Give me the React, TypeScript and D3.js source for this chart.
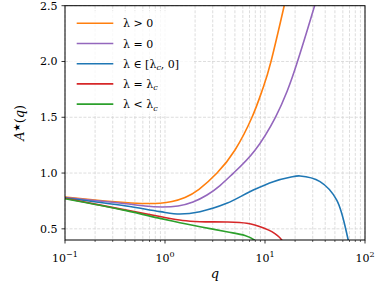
import React from "react";
import * as d3 from "d3";

const W = 381;
const H = 286;

const seriesLabels = ["λ > 0", "λ = 0", "λ ∈ [λc, 0]", "λ = λc", "λ < λc"];
const seriesColors = ["#ff7f0e", "#9467bd", "#1f77b4", "#d62728", "#2ca02c"];

const orangeQ = [0.1, 0.251, 0.398, 0.631, 0.891, 1.175, 1.585, 2.188, 3.311, 5.012, 7.413, 9.44, 11.48, 15.56, 17.78];
const orangeV = [0.785, 0.75, 0.736, 0.727, 0.73, 0.745, 0.781, 0.854, 1.0, 1.207, 1.5, 1.749, 2.0, 2.5, 2.73];

const purpleQ = [0.1, 0.316, 0.631, 0.933, 1.349, 1.905, 2.63, 3.548, 4.842, 7.943, 12.71, 16.6, 21.13, 31.33, 35.48];
const purpleV = [0.78, 0.736, 0.705, 0.696, 0.705, 0.741, 0.803, 0.888, 1.0, 1.205, 1.5, 1.731, 2.0, 2.5, 2.677];

const blueQ = [0.1, 0.41, 0.89, 1.41, 2.24, 4.14, 7.64, 12.1, 17.8, 22.4, 35.5, 52, 68, 72];
const blueV = [0.777, 0.705, 0.654, 0.633, 0.654, 0.729, 0.848, 0.923, 0.962, 0.974, 0.923, 0.76, 0.4, 0.3];

const redQ = [0.1, 0.41, 0.89, 1.5, 2.24, 4.14, 6.58, 7.9, 11.7, 14.7, 16];
const redV = [0.774, 0.668, 0.61, 0.575, 0.564, 0.561, 0.55, 0.535, 0.475, 0.4, 0.3];

const greenQ = [0.1, 0.41, 0.89, 1.41, 2.24, 4.14, 6.3, 7.8, 8.3];
const greenV = [0.77, 0.663, 0.594, 0.555, 0.519, 0.474, 0.44, 0.4, 0.37];

const seriesQ = [orangeQ, purpleQ, blueQ, redQ, greenQ];
const seriesV = [orangeV, purpleV, blueV, redV, greenV];

const xDecades = [-1, 0, 1, 2];
const yTicks = [0.5, 1.0, 1.5, 2.0, 2.5];

const left = 65;
const right = 365;
const top = 5.7;
const bottom = 240;

export default function App() {
  const x = d3.scaleLog().domain([0.1, 100]).range([left, right]);
  const y = d3.scaleLinear().domain([0.4, 2.5]).range([bottom, top]);

  const minorX: number[] = [];
  for (let d = -1; d < 2; d++) {
    for (let k = 2; k <= 9; k++) minorX.push(k * Math.pow(10, d));
  }

  const smoothLine = d3
    .line<[number, number]>()
    .x((d) => x(d[0]))
    .y((d) => y(d[1]))
    .curve(d3.curveNatural);
  const localLine = d3
    .line<[number, number]>()
    .x((d) => x(d[0]))
    .y((d) => y(d[1]))
    .curve(d3.curveCatmullRom.alpha(0.5));

  const gridStyle = { stroke: "#d4d4d4", strokeWidth: 0.8, strokeDasharray: "3,1.6" };
  const serif = "'DejaVu Serif', 'Liberation Serif', serif";

  const legX0 = 76.7;
  const legX1 = 113.3;
  const legY0 = 23.3;
  const legStep = 20.2;

  const renderLabel = (i: number) => {
    const sub = { fontSize: 8, fontStyle: "italic" as const };
    switch (i) {
      case 0:
        return <tspan>λ &gt; 0</tspan>;
      case 1:
        return <tspan>λ = 0</tspan>;
      case 2:
        return (
          <>
            <tspan>λ ∈ [λ</tspan>
            <tspan dy={2.5} style={sub}>c</tspan>
            <tspan dy={-2.5}>, 0]</tspan>
          </>
        );
      case 3:
        return (
          <>
            <tspan>λ = λ</tspan>
            <tspan dy={2.5} style={sub}>c</tspan>
          </>
        );
      default:
        return (
          <>
            <tspan>λ &lt; λ</tspan>
            <tspan dy={2.5} style={sub}>c</tspan>
          </>
        );
    }
  };

  return (
    <svg
      width={W}
      height={H}
      style={{ position: "absolute", left: 0, top: 0, background: "#fff" }}
      fontFamily={serif}
    >
      <defs>
        <clipPath id="plotclip">
          <rect x={left} y={top} width={right - left} height={bottom - top} />
        </clipPath>
      </defs>
      <g>
        {minorX.map((v, i) => (
          <line key={"mx" + i} x1={x(v)} x2={x(v)} y1={top} y2={bottom} style={gridStyle} />
        ))}
        {xDecades.map((d) => (
          <line key={"Mx" + d} x1={x(Math.pow(10, d))} x2={x(Math.pow(10, d))} y1={top} y2={bottom} style={gridStyle} />
        ))}
        {yTicks.map((t) => (
          <line key={"gy" + t} x1={left} x2={right} y1={y(t)} y2={y(t)} style={gridStyle} />
        ))}
      </g>
      <g clipPath="url(#plotclip)">
        {seriesQ.map((qs, i) => {
          const pts = qs.map((q, j) => [q, seriesV[i][j]] as [number, number]);
          const gen = i < 2 ? smoothLine : localLine;
          return (
            <path
              key={"s" + i}
              d={gen(pts) || ""}
              fill="none"
              stroke={seriesColors[i]}
              strokeWidth={1.6}
            />
          );
        })}
      </g>
      <rect x={70} y={11} width={124} height={103} rx={3} fill="#fff" fillOpacity={0.8} />
      {seriesLabels.map((lab, i) => (
        <g key={"lg" + i}>
          <line
            x1={legX0}
            x2={legX1}
            y1={legY0 + i * legStep}
            y2={legY0 + i * legStep}
            stroke={seriesColors[i]}
            strokeWidth={1.6}
          />
          <text x={123} y={legY0 + i * legStep + 4} fontSize={11} fill="#000">
            {renderLabel(i)}
          </text>
        </g>
      ))}
      <rect x={left} y={top} width={right - left} height={bottom - top} fill="none" stroke="#000" strokeWidth={1} />
      {minorX.map((v, i) => (
        <line key={"tmx" + i} x1={x(v)} x2={x(v)} y1={bottom} y2={bottom + 2} stroke="#000" strokeWidth={0.6} />
      ))}
      {xDecades.map((d) => (
        <g key={"tx" + d}>
          <line x1={x(Math.pow(10, d))} x2={x(Math.pow(10, d))} y1={bottom} y2={bottom + 3.5} stroke="#000" strokeWidth={0.8} />
          <text x={x(Math.pow(10, d))} y={262} fontSize={11} textAnchor="middle" fill="#000">
            <tspan>10</tspan>
            <tspan dy={-5} fontSize={8}>{d < 0 ? "−" + Math.abs(d) : String(d)}</tspan>
          </text>
        </g>
      ))}
      {yTicks.map((t) => (
        <g key={"ty" + t}>
          <line x1={left - 3.5} x2={left} y1={y(t)} y2={y(t)} stroke="#000" strokeWidth={0.8} />
          <text x={57.5} y={y(t) + 4} fontSize={11} textAnchor="end" fill="#000">
            {t.toFixed(1)}
          </text>
        </g>
      ))}
      <text x={215} y={278} fontSize={13} fontStyle="italic" textAnchor="middle" fill="#000">
        q
      </text>
      <text transform={`translate(24,${(top + bottom) / 2}) rotate(-90)`} fontSize={13} textAnchor="middle" fill="#000">
        <tspan fontStyle="italic">A</tspan>
        <tspan dy={-4} fontSize={9} fontFamily="'DejaVu Sans', sans-serif">★</tspan>
        <tspan dy={4}>(</tspan>
        <tspan fontStyle="italic">q</tspan>
        <tspan>)</tspan>
      </text>
    </svg>
  );
}
